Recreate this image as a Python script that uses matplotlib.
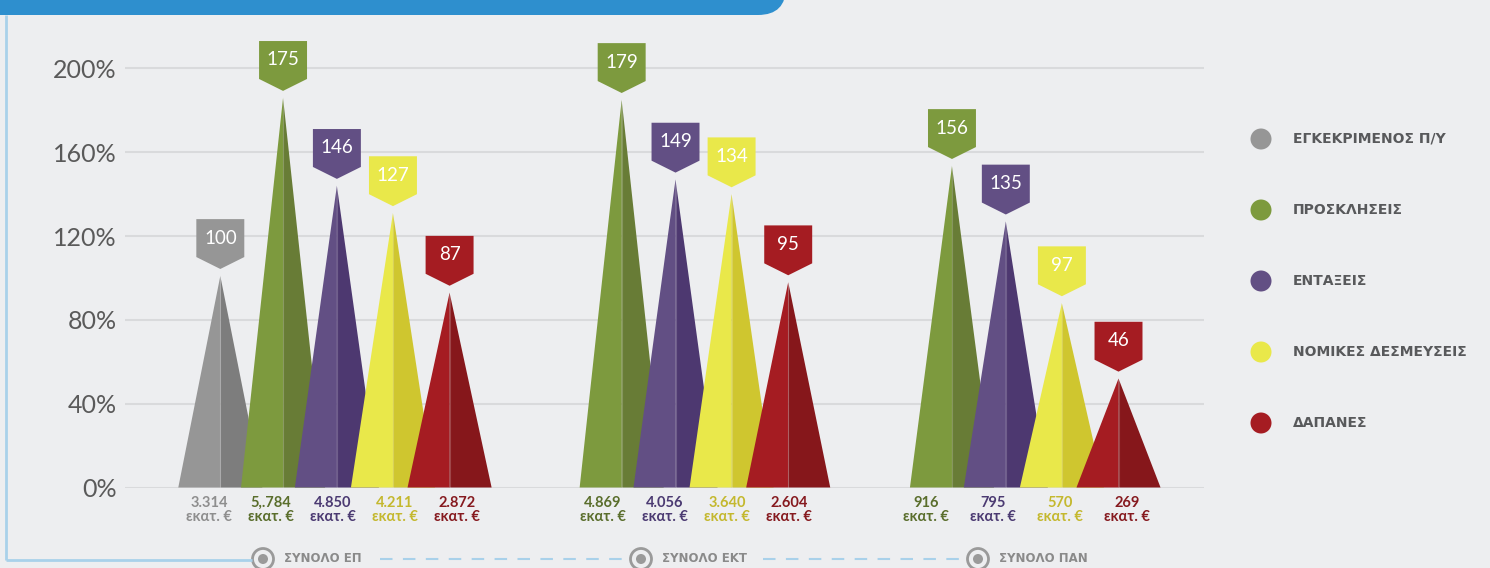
import matplotlib
matplotlib.use("Agg")
import matplotlib.pyplot as plt
from matplotlib.patches import Polygon, Circle, FancyBboxPatch

# series / groups
series = ['ΕΓΚΕΚΡΙΜΕΝΟΣ Π/Υ', 'ΠΡΟΣΚΛΗΣΕΙΣ', 'ΕΝΤΑΞΕΙΣ', 'ΝΟΜΙΚΕΣ ΔΕΣΜΕΥΣΕΙΣ', 'ΔΑΠΑΝΕΣ']
groups = ['ΣΥΝΟΛΟ ΕΠ', 'ΣΥΝΟΛΟ ΕΚΤ', 'ΣΥΝΟΛΟ ΠΑΝ']

# spike heights (% of approved budget), as drawn
ep_peak = [101, 186, 144, 131, 93]
ekt_peak = [None, 185, 147, 140, 98]
pan_peak = [None, 153.5, 127, 88, 52]

# index shown in the label boxes
ep_index = [100, 175, 146, 127, 87]
ekt_index = [None, 179, 149, 134, 95]
pan_index = [None, 156, 135, 97, 46]

# amounts in million euro
ep_amount = ['3.314', '5,.784', '4.850', '4.211', '2.872']
ekt_amount = [None, '4.869', '4.056', '3.640', '2.604']
pan_amount = [None, '916', '795', '570', '269']

yticks = [0, 40, 80, 120, 160, 200]

peaks = [ep_peak, ekt_peak, pan_peak]
indexes = [ep_index, ekt_index, pan_index]
amounts = [ep_amount, ekt_amount, pan_amount]

light = ['#969696', '#7d9a3e', '#624f84', '#e9e84a', '#a51c22']
dark = ['#7d7d7d', '#687c36', '#4d3870', '#cfc62f', '#86171b']
txtcol = ['#8e8e8e', '#5a6e2c', '#4b3a72', '#c4b82e', '#861a1f']
bg = '#edeef0'

# layout (slot units)
group_x0 = [0, 6.1, 12.05]
slot = [-1.13, 0, 0.97, 1.98, 3.0]
lab_center = [0.90, 7.44, 13.4]
lab_step = [1.117, 1.117, 1.207]
half_w = 0.757

fig = plt.figure(figsize=(14.9, 5.68), dpi=100, facecolor=bg)

# decoration layer in pixel coords
deco = fig.add_axes([0, 0, 1, 1], zorder=0)
deco.set_xlim(0, 1490)
deco.set_ylim(568, 0)
deco.axis('off')

deco.add_patch(FancyBboxPatch((-40, -40), 826, 55, boxstyle='round,pad=0,rounding_size=28',
                              fc='#2e8fce', ec='none'))
deco.plot([6, 6], [15, 560], color='#a9d1ea', lw=2, solid_capstyle='butt')
deco.plot([6, 252], [560, 560], color='#a9d1ea', lw=2, solid_capstyle='butt')
deco.plot([380, 628], [559, 559], color='#a9d1ea', lw=1.5, dashes=(6, 5))
deco.plot([763, 966], [559, 559], color='#a9d1ea', lw=1.5, dashes=(6, 5))
for cx, name in zip([263, 641, 978], groups):
    deco.add_patch(Circle((cx, 559), 10.5, fc=bg, ec='#9a9a9a', lw=2))
    deco.add_patch(Circle((cx, 559), 5, fc='#9a9a9a', ec='none'))
    deco.text(cx + 21, 559, name, ha='left', va='center', fontsize=8.5,
              fontweight='bold', color='#8a8a8a')

# legend
for i, name in enumerate(series):
    ly = 139 + i * 71
    deco.add_patch(Circle((1261, ly), 10.5, fc=light[i], ec='none'))
    deco.text(1293, ly, name, ha='left', va='center', fontsize=10,
              fontweight='bold', color='#58595b')

# main chart
ax = fig.add_axes([125 / 1490, 80.5 / 568, 1079 / 1490, 471.4 / 568], zorder=1)
ax.set_facecolor('none')
ax.set_xlim(-2.847, 16.59)
ax.set_ylim(0, 225)
for s in ax.spines.values():
    s.set_visible(False)
ax.set_xticks([])
ax.set_yticks(yticks)
ax.set_yticklabels(['%d%%' % t for t in yticks], fontsize=18, color='#5a5a5a',
                   family='Lato', fontweight='normal')
ax.tick_params(axis='y', length=0, pad=6)
for t in yticks:
    ax.axhline(t, color='#d9dadc', lw=1.5, zorder=0)

for g in range(len(groups)):
    present = [i for i in range(len(series)) if peaks[g][i] is not None]
    for k, i in enumerate(present):
        x = group_x0[g] + slot[i]
        h = peaks[g][i]
        ax.add_patch(Polygon([(x - half_w, 0), (x, h), (x, 0)], closed=True,
                             fc=light[i], ec='none', zorder=2))
        ax.add_patch(Polygon([(x, 0), (x, h), (x + half_w, 0)], closed=True,
                             fc=dark[i], ec='none', zorder=2))
        ax.plot([x, x], [0, h], color='white', alpha=0.2, lw=0.8, zorder=2)

        # label box with pointer
        tip = h + 3.3
        bot = tip + 5.7
        top = bot + 18.1
        bw = 0.432
        ax.add_patch(Polygon([(x - bw, top), (x + bw, top), (x + bw, bot), (x, tip),
                              (x - bw, bot)], closed=True, fc=light[i], ec='none',
                             zorder=3, clip_on=False))
        ax.text(x, (bot + top) / 2, str(indexes[g][i]), ha='center', va='center',
                fontsize=13.5, color='white', family='Lato', fontweight='normal',
                zorder=4, clip_on=False)

        # amount under the spike
        lx = lab_center[g] + (k - (len(present) - 1) / 2) * lab_step[g]
        ax.text(lx, -10.7, amounts[g][i] + '\nεκατ. €', ha='center', va='center',
                fontsize=10.5, fontweight='bold', color=txtcol[i], linespacing=1.0,
                family='Lato', clip_on=False)

fig.savefig('out.png', dpi=100, facecolor=bg)
